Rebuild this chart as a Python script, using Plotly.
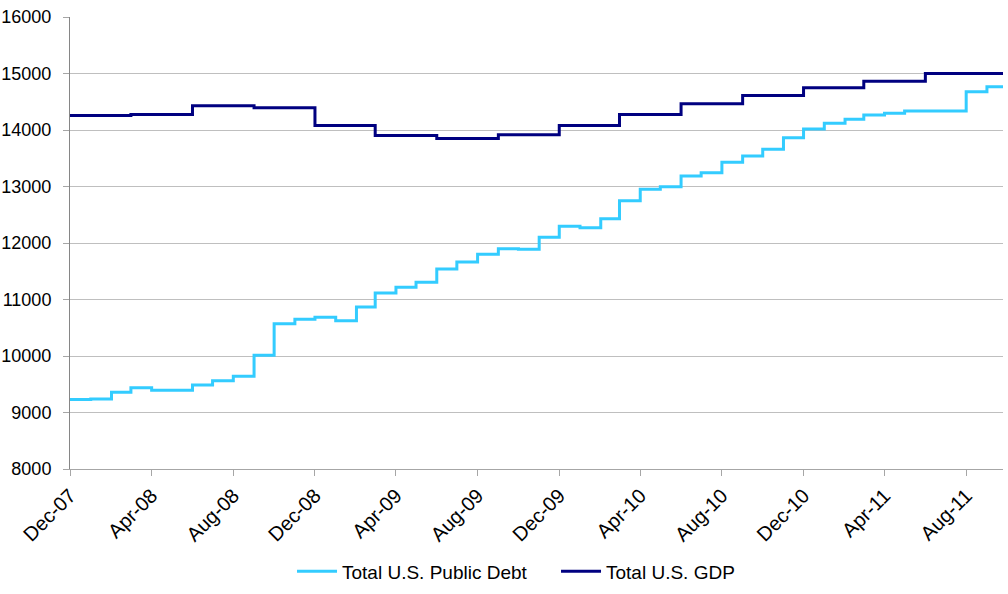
import plotly.graph_objects as go

# Monthly total public debt (billions USD), Dec-07 .. Sep-11
debt_dates = [
    "2007-12-01", "2008-01-01", "2008-02-01", "2008-03-01", "2008-04-01", "2008-05-01",
    "2008-06-01", "2008-07-01", "2008-08-01", "2008-09-01", "2008-10-01", "2008-11-01",
    "2008-12-01", "2009-01-01", "2009-02-01", "2009-03-01", "2009-04-01", "2009-05-01",
    "2009-06-01", "2009-07-01", "2009-08-01", "2009-09-01", "2009-10-01", "2009-11-01",
    "2009-12-01", "2010-01-01", "2010-02-01", "2010-03-01", "2010-04-01", "2010-05-01",
    "2010-06-01", "2010-07-01", "2010-08-01", "2010-09-01", "2010-10-01", "2010-11-01",
    "2010-12-01", "2011-01-01", "2011-02-01", "2011-03-01", "2011-04-01", "2011-05-01",
    "2011-06-01", "2011-07-01", "2011-08-01", "2011-09-01",
]
debt_values = [
    9229, 9237, 9359, 9437, 9395, 9395,
    9487, 9563, 9641, 10012, 10570, 10650,
    10685, 10625, 10867, 11115, 11215, 11304,
    11540, 11664, 11800, 11900, 11888, 12101,
    12296, 12271, 12430, 12749, 12950, 12996,
    13186, 13244, 13428, 13540, 13658, 13864,
    14018, 14119, 14189, 14265, 14295, 14336,
    14336, 14336, 14678, 14766,
]

# Quarterly GDP (billions USD)
gdp_dates = [
    "2007-12-01", "2008-03-01", "2008-06-01", "2008-09-01", "2008-12-01",
    "2009-03-01", "2009-06-01", "2009-09-01", "2009-12-01", "2010-03-01",
    "2010-06-01", "2010-09-01", "2010-12-01", "2011-03-01", "2011-06-01",
]
gdp_values = [
    14257, 14274, 14428, 14393, 14080,
    13903, 13850, 13915, 14080, 14275,
    14464, 14611, 14747, 14864, 15000,
]

START_DATE = "2007-12-01"
END_DATE = "2011-09-25"

# carry the latest value of each series through to the end of the axis
debt_x = debt_dates + [END_DATE]
debt_y = debt_values + [debt_values[-1]]
gdp_x = gdp_dates + [END_DATE]
gdp_y = gdp_values + [gdp_values[-1]]

FONT = "Liberation Sans, Arial, sans-serif"

fig = go.Figure()
fig.add_trace(go.Scatter(
    x=debt_x, y=debt_y, mode="lines", name="Total U.S. Public Debt",
    line=dict(color="#33CCFF", width=3, shape="hv"),
))
fig.add_trace(go.Scatter(
    x=gdp_x, y=gdp_y, mode="lines", name="Total U.S. GDP",
    line=dict(color="#000080", width=3, shape="hv"),
))

fig.update_layout(
    width=1008, height=594,
    margin=dict(l=70, r=5, t=17, b=125, autoexpand=False),
    paper_bgcolor="white", plot_bgcolor="white",
    font=dict(family=FONT, size=18, color="#000000"),
    showlegend=True,
    legend=dict(
        orientation="h", xref="container", x=0.2897, xanchor="left",
        yref="container", y=0.038, yanchor="middle",
        font=dict(size=19), itemwidth=40, entrywidth=209,
    ),
    xaxis=dict(
        type="date", range=[START_DATE, END_DATE],
        tick0=START_DATE, dtick="M4", tickformat="%b-%y", tickangle=-45,
        showgrid=False, showline=True, linecolor="#A6A6A6", linewidth=1,
        ticks="outside", ticklen=6, tickcolor="#A6A6A6",
        tickfont=dict(size=20), zeroline=False,
    ),
    yaxis=dict(
        range=[8000, 16000], dtick=1000, tickformat="d",
        showgrid=True, gridcolor="#BFBFBF", gridwidth=1,
        showline=True, linecolor="#868686", linewidth=1,
        ticks="outside", ticklen=6, tickcolor="#A6A6A6",
        ticklabelstandoff=8,
        tickfont=dict(size=18), zeroline=False,
    ),
)

fig.write_html("out.html")
